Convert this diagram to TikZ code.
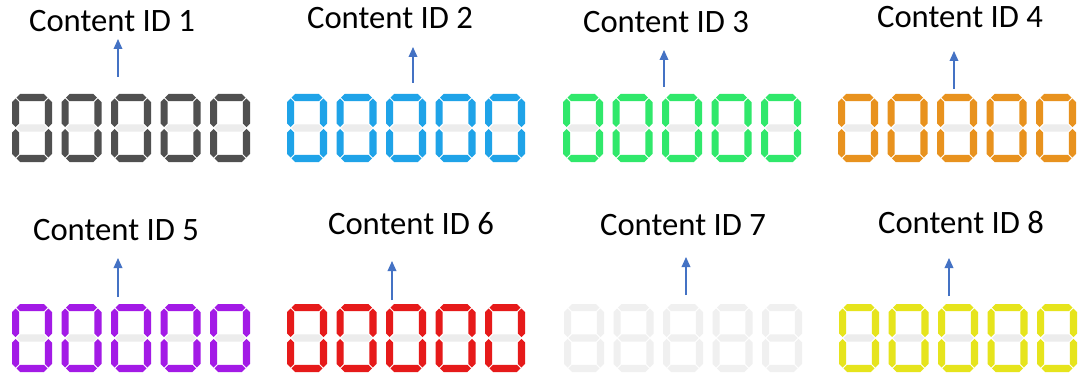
\documentclass[tikz,border=0pt]{standalone}
\usepackage{fontspec}
\setmainfont{Carlito}
\usetikzlibrary{arrows.meta}
\definecolor{cdark}{HTML}{505050}
\definecolor{cblue}{HTML}{1FA3E8}
\definecolor{cgreen}{HTML}{30E86B}
\definecolor{corange}{HTML}{E8921E}
\definecolor{cpurple}{HTML}{A31AE6}
\definecolor{cred}{HTML}{E61A1A}
\definecolor{coff}{HTML}{F0F0F0}
\definecolor{cyellow}{HTML}{E6E41C}
\definecolor{cmid}{HTML}{ECECEC}
\definecolor{arrowblue}{HTML}{4472C4}
% horizontal segment: #1 centre y, #2 colour
\newcommand{\sgh}[2]{\fill[#2] (4.5,#1) -- (8.1,#1-3.6) -- (31.9,#1-3.6) -- (35.5,#1) -- (31.9,#1+3.6) -- (8.1,#1+3.6) -- cycle;}
% vertical segment: #1 centre x, #2 y0, #3 y1, #4 colour
\newcommand{\sgv}[4]{\fill[#4] (#1,#2) -- (#1-3.6,#2+3.6) -- (#1-3.6,#3-3.6) -- (#1,#3) -- (#1+3.6,#3-3.6) -- (#1+3.6,#2+3.6) -- cycle;}
% one digit: #1 x, #2 y, #3 lit colour, #4 middle colour
\newcommand{\segdig}[4]{%
\begin{scope}[shift={(#1,#2)}]
\sgh{3.6}{#3}\sgh{64.4}{#3}\sgh{34}{#4}
\sgv{3.6}{4.5}{33.1}{#3}\sgv{36.4}{4.5}{33.1}{#3}
\sgv{3.6}{34.9}{63.5}{#3}\sgv{36.4}{34.9}{63.5}{#3}
\end{scope}}
% five-digit display: #1 x, #2 y, #3 lit colour, #4 middle colour
\newcommand{\segdisp}[4]{%
\foreach \k in {0,...,4}{\segdig{#1+49.5*\k}{#2}{#3}{#4}}}
\tikzset{
  lbl/.style={anchor=base, inner sep=0pt, font=\fontsize{24.5}{29}\selectfont},
  arr/.style={-{Triangle[length=7.5pt,width=6.5pt]}, line width=1pt, draw=arrowblue}
}
\begin{document}
\begin{tikzpicture}[x=0.75pt,y=-0.75pt]
\useasboundingbox (0,0) rectangle (1082,378);
\fill[white] (0,0) rectangle (1082,378);
% displays
\segdisp{12}{94}{cdark}{cmid}
\segdisp{287}{94}{cblue}{cmid}
\segdisp{563}{94}{cgreen}{cmid}
\segdisp{838}{94}{corange}{cmid}
\segdisp{12}{304}{cpurple}{cmid}
\segdisp{287}{304}{cred}{cmid}
\segdisp{564}{304}{coff}{coff}
\segdisp{839}{304}{cyellow}{cmid}
% labels
\node[lbl] (l1) at (112,32) {Content ID 1};
\node[lbl] (l2) at (390,29) {Content ID 2};
\node[lbl] (l3) at (666,33) {Content ID 3};
\node[lbl] (l4) at (960,28) {Content ID 4};
\node[lbl] (l5) at (116,240) {Content ID 5};
\node[lbl] (l6) at (411,234) {Content ID 6};
\node[lbl] (l7) at (683,235) {Content ID 7};
\node[lbl] (l8) at (961,233) {Content ID 8};
% arrows
\coordinate (s1) at (118,77);  \coordinate (e1) at (118,39);
\coordinate (s2) at (413,83);  \coordinate (e2) at (413,47);
\coordinate (s3) at (664,87);  \coordinate (e3) at (664,50);
\coordinate (s4) at (954,89);  \coordinate (e4) at (954,51);
\coordinate (s5) at (118,297); \coordinate (e5) at (118,258);
\coordinate (s6) at (392,300); \coordinate (e6) at (392,261);
\coordinate (s7) at (686,295); \coordinate (e7) at (686,257);
\coordinate (s8) at (949,296); \coordinate (e8) at (949,258);
\foreach \i in {1,...,8}{\draw[arr] (s\i) -- (e\i);}
\end{tikzpicture}
\end{document}
